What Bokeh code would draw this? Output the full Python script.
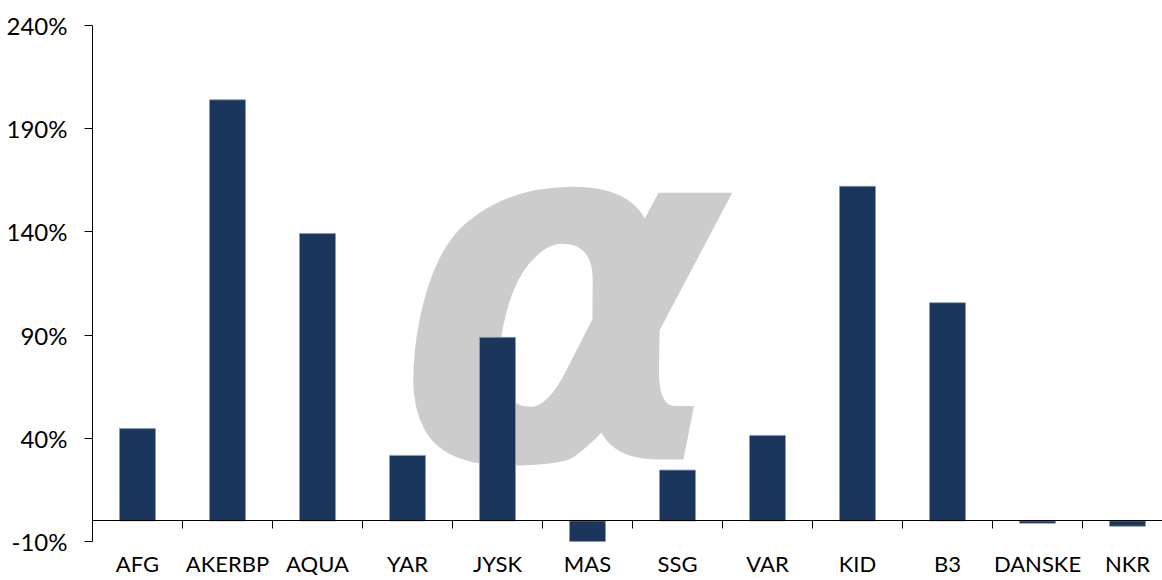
from bokeh.plotting import figure
from bokeh.models import (Range1d, LinearAxis, FixedTicker, PrintfTickFormatter,
                          ColumnDataSource, Label)
from bokeh.embed import file_html
from bokeh.resources import INLINE

categories = ["AFG", "AKERBP", "AQUA", "YAR", "JYSK", "MAS", "SSG", "VAR",
              "KID", "B3", "DANSKE", "NKR"]
values = [44.7, 204.0, 139.2, 31.7, 88.9, -11.2, 24.6, 41.4, 162.1, 105.7, -1.2, -2.6]
y_ticks = [-10, 40, 90, 140, 190, 240]
watermark = "α"

n = len(categories)
centers = [i + 0.5 for i in range(n)]
boundaries = list(range(1, n))

FONT = "Lato"
BAR = "#1b365d"

W, H = 1162, 580
LEFT, TOP, BOTTOM = 92, 25, 39
px_per_cat = 90.0
x_end = (W - LEFT) / px_per_cat

p = figure(width=W, height=H, output_backend="svg", toolbar_location=None,
           x_range=Range1d(0, x_end), y_range=Range1d(-10, 240),
           min_border_left=LEFT, min_border_right=0, min_border_top=TOP,
           min_border_bottom=BOTTOM, x_axis_type=None, y_axis_type=None)
p.outline_line_color = None
p.grid.visible = False
p.background_fill_color = "white"
p.border_fill_color = "white"

# watermark (kept fully inside the canvas)
wm = Label(x=5.22, y=111.6, text=watermark, text_font="DejaVu Sans",
           text_font_style="bold italic", text_font_size="488px",
           text_color="#cccccc", text_align="center", text_baseline="middle",
           level="underlay")
p.add_layout(wm)

src = ColumnDataSource(dict(x=centers, top=values))
p.vbar(x="x", top="top", bottom=0, width=0.4, source=src,
       fill_color=BAR, line_color="#8a9bb3", line_width=0.8)

# y axis
yax = LinearAxis(ticker=FixedTicker(ticks=y_ticks),
                 formatter=PrintfTickFormatter(format="%d%%"))
yax.major_tick_out = 8
yax.major_tick_in = 0
yax.minor_tick_out = 0
yax.minor_tick_in = 0
yax.axis_line_color = "black"
yax.major_tick_line_color = "black"
yax.major_label_text_font = FONT
yax.major_label_text_font_size = "24px"
yax.major_label_text_color = "black"
yax.major_label_standoff = 17
p.add_layout(yax, "left")

# category labels axis (bottom of frame)
xax = LinearAxis(ticker=FixedTicker(ticks=centers),
                 major_label_overrides={c: lab for c, lab in zip(centers, categories)})
xax.axis_line_color = None
xax.major_tick_line_color = None
xax.major_tick_out = 0
xax.major_tick_in = 0
xax.minor_tick_out = 0
xax.minor_tick_in = 0
xax.major_label_text_font = FONT
xax.major_label_text_font_size = "22px"
xax.major_label_text_color = "black"
xax.major_label_standoff = 8
p.add_layout(xax, "below")

# zero line axis with boundary ticks
zax = LinearAxis(ticker=FixedTicker(ticks=boundaries), fixed_location=0,
                 major_label_overrides={b: "" for b in boundaries})
zax.axis_line_color = "black"
zax.major_tick_line_color = "black"
zax.major_tick_out = 8
zax.major_tick_in = 0
zax.minor_tick_out = 0
zax.minor_tick_in = 0
p.add_layout(zax, "below")

open("out.html", "w").write(file_html(p, INLINE))
